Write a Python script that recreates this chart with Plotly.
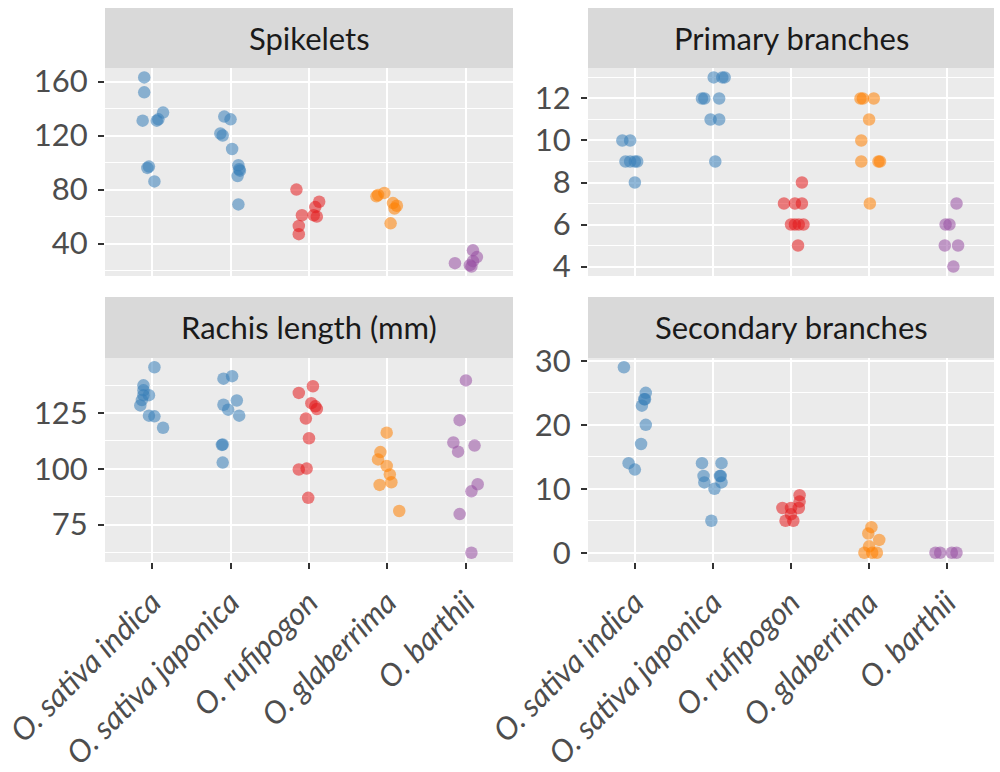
import plotly.graph_objects as go

species = ["O. sativa indica", "O. sativa japonica", "O. rufipogon", "O. glaberrima", "O. barthii"]
species_colors = ["#377EB8", "#377EB8", "#E41A1C", "#FF7F00", "#984EA3"]
panel_titles = ["Spikelets", "Primary branches", "Rachis length (mm)", "Secondary branches"]

# species index (1..5), value, horizontal jitter
spikelets_species = [1]*9 + [2]*10 + [3]*8 + [4]*7 + [5]*6
spikelets_values = [163, 152, 131, 131, 132, 137, 96, 97, 86,
                    134, 132, 121.5, 120, 110, 98, 95, 94, 90, 69,
                    80, 61, 61, 67, 71, 60, 53, 47,
                    76, 77.5, 75, 70, 68, 66, 55,
                    35, 30, 25.5, 24, 27, 23]
spikelets_jitter = [-0.10, -0.10, -0.12, 0.06, 0.08, 0.14, -0.06, -0.04, 0.03,
                    -0.08, 0.00, -0.13, -0.10, 0.02, 0.10, 0.11, 0.12, 0.09, 0.10,
                    -0.16, -0.09, 0.06, 0.08, 0.13, 0.10, -0.13, -0.13,
                    -0.12, -0.04, -0.14, 0.07, 0.12, 0.09, 0.04,
                    0.09, 0.14, -0.14, 0.05, 0.09, 0.07]

primary_species = [1]*7 + [2]*9 + [3]*9 + [4]*9 + [5]*6
primary_values = [10, 10, 9, 9, 9, 9, 8,
                  13, 13, 13, 12, 12, 12, 11, 11, 9,
                  8, 7, 7, 7, 6, 6, 6, 6, 5,
                  12, 12, 12, 11, 10, 9, 9, 9, 7,
                  7, 6, 6, 5, 5, 4]
primary_jitter = [-0.16, -0.06, -0.12, -0.06, 0.00, 0.03, 0.00,
                  0.01, 0.12, 0.15, -0.14, -0.11, 0.08, -0.03, 0.08, 0.03,
                  0.14, -0.09, 0.05, 0.14, 0.00, 0.05, 0.10, 0.16, 0.09,
                  -0.11, -0.08, 0.06, 0.00, -0.10, -0.10, 0.12, 0.14, 0.01,
                  0.12, -0.02, 0.03, -0.03, 0.14, 0.08]

rachis_species = [1]*10 + [2]*9 + [3]*10 + [4]*8 + [5]*9
rachis_values = [145.5, 137.4, 135.2, 133, 133, 130.8, 128.4, 123.8, 123.5, 118.4,
                 140.4, 141.5, 128.7, 126.5, 130.6, 123.8, 110.7, 110.9, 102.8,
                 134, 137, 129.4, 126.8, 128, 122.5, 113.7, 99.7, 100.1, 87,
                 116.2, 107.5, 104.2, 101.3, 97.5, 94, 92.8, 81.1,
                 139.6, 121.8, 111.8, 107.7, 110.4, 93.1, 89.9, 79.7, 62.4]
rachis_jitter = [0.03, -0.11, -0.11, -0.11, -0.04, -0.13, -0.15, -0.04, 0.03, 0.14,
                 -0.09, 0.02, -0.09, -0.03, 0.08, 0.11, -0.11, -0.10, -0.10,
                 -0.13, 0.05, 0.03, 0.10, 0.08, -0.04, 0.00, -0.13, -0.03, -0.01,
                 -0.01, -0.09, -0.12, -0.01, 0.03, 0.05, -0.10, 0.15,
                 0.00, -0.08, -0.16, -0.10, 0.11, 0.15, 0.07, -0.08, 0.07]

secondary_species = [1]*9 + [2]*9 + [3]*8 + [4]*7 + [5]*4
secondary_values = [29, 25, 24, 24, 23, 20, 17, 14, 13,
                    14, 14, 12, 11, 12, 12, 11, 10, 5,
                    9, 8, 7, 7, 7, 6, 5, 5,
                    4, 3, 2, 1, 0, 0, 0,
                    0, 0, 0, 0]
secondary_jitter = [-0.14, 0.14, 0.13, 0.12, 0.09, 0.14, 0.08, -0.08, 0.00,
                    -0.14, 0.11, -0.12, -0.11, 0.09, 0.10, 0.11, 0.02, -0.02,
                    0.11, 0.11, -0.11, 0.00, 0.10, 0.00, -0.07, 0.03,
                    0.03, -0.01, 0.13, 0.00, -0.06, 0.04, 0.10,
                    -0.15, -0.09, 0.06, 0.12]

y_major = [[40, 80, 120, 160], [4, 6, 8, 10, 12], [75, 100, 125], [0, 10, 20, 30]]
y_minor = [[20, 60, 100, 140], [5, 7, 9, 11, 13], [62.5, 87.5, 112.5, 137.5], [5, 15, 25]]

panels = [
    (spikelets_species, spikelets_values, spikelets_jitter),
    (primary_species, primary_values, primary_jitter),
    (rachis_species, rachis_values, rachis_jitter),
    (secondary_species, secondary_values, secondary_jitter),
]

W, H = 1000, 772
# panel pixel boxes: (left, right, top, bottom, strip_top)
boxes = [(105, 513, 68, 276, 8), (588, 994, 68, 276, 8),
         (105, 513, 358, 562, 297), (588, 994, 358, 562, 297)]

fig = go.Figure()
FONT = "Lato"
for p, (sp, vals, jit) in enumerate(panels):
    ax = "" if p == 0 else str(p + 1)
    for s in range(1, 6):
        xs = [s + j for k, j in zip(sp, jit) if k == s]
        ys = [v for k, v in zip(sp, vals) if k == s]
        fig.add_trace(go.Scatter(
            x=xs, y=ys, mode="markers", xaxis="x" + ax, yaxis="y" + ax,
            marker=dict(size=12.5, color=species_colors[s - 1], opacity=0.55, line=dict(width=0)),
            showlegend=False, hoverinfo="y"))
    lo, hi = min(vals), max(vals)
    pad = (hi - lo) * 0.05
    left, right, top, bottom, stop = boxes[p]
    bottom_row = p >= 2
    fig.layout["xaxis" + ax] = dict(
        domain=[left / W, right / W], anchor="y" + ax, range=[0.4, 5.6], automargin=False,
        tickvals=[1, 2, 3, 4, 5], ticktext=species,
        showticklabels=bottom_row, ticks="outside" if bottom_row else "",
        ticklen=6, tickwidth=1.5, tickcolor="#333333", ticklabelstandoff=3,
        tickangle=-45, tickfont=dict(family=FONT, size=31, color="#4D4D4D", style="italic"),
        showgrid=True, gridcolor="white", gridwidth=2.2, zeroline=False, showline=False)
    fig.layout["yaxis" + ax] = dict(
        domain=[1 - bottom / H, 1 - top / H], anchor="x" + ax, range=[lo - pad, hi + pad],
        automargin=False,
        tickvals=y_major[p], ticks="outside", ticklen=6, tickwidth=1.5, tickcolor="#333333",
        tickfont=dict(family=FONT, size=31, color="#4D4D4D"), ticklabelstandoff=4,
        showgrid=True, gridcolor="white", gridwidth=2.2, zeroline=False, showline=False,
        minor=dict(tickvals=y_minor[p], showgrid=True, gridcolor="white", gridwidth=1, ticks=""))
    fig.add_shape(type="rect", xref="paper", yref="paper",
                  x0=left / W, x1=right / W, y0=1 - top / H, y1=1 - stop / H,
                  fillcolor="#D9D9D9", line=dict(width=0), layer="below")
    fig.add_annotation(xref="paper", yref="paper", x=(left + right) / 2 / W,
                       y=1 - (top + stop) / 2 / H, text=panel_titles[p], showarrow=False,
                       font=dict(family=FONT, size=31, color="#1A1A1A"),
                       xanchor="center", yanchor="middle")

fig.update_layout(width=W, height=H, margin=dict(l=0, r=0, t=0, b=0, autoexpand=False),
                  paper_bgcolor="white", plot_bgcolor="#EBEBEB",
                  font=dict(family=FONT))
fig.write_html("out.html", config={"displayModeBar": False},
               post_script="document.body.style.margin='0px';")
